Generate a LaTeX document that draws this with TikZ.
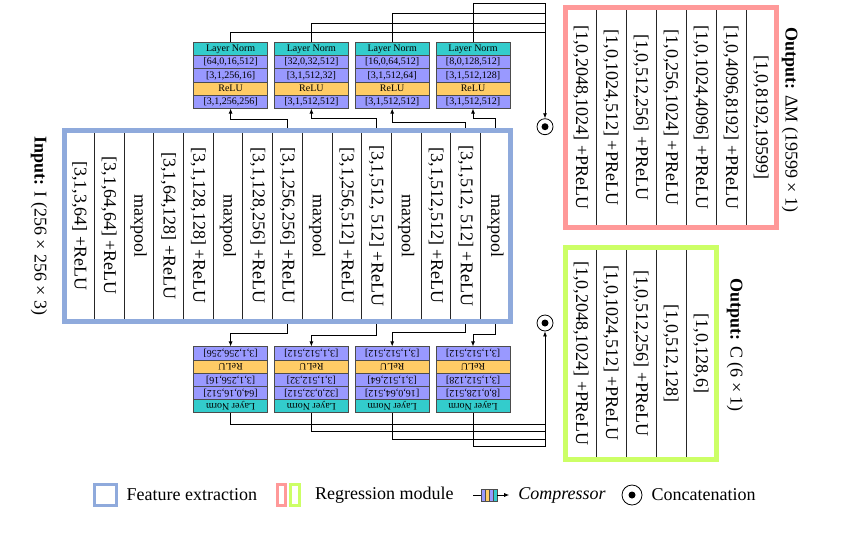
\documentclass[tikz,border=0pt]{standalone}
\usepackage{fontspec}
\setmainfont{Liberation Serif}
\usetikzlibrary{arrows.meta,positioning}

\definecolor{featblue}{RGB}{143,170,220}
\definecolor{regred}{RGB}{255,153,153}
\definecolor{reggreen}{RGB}{204,255,102}
\definecolor{normteal}{RGB}{51,204,204}
\definecolor{convblue}{RGB}{153,153,255}
\definecolor{reluorange}{RGB}{255,204,102}

\newcommand{\colfont}{\fontsize{18}{20}\selectfont}
\newcommand{\cmpfont}{\fontsize{10}{11}\selectfont}

\tikzset{
    pics/compressor/.style args={#1/#2/#3}{code={
        \node[cmprow,fill=normteal] (-ln) at (0,-26.4) {Layer Norm};
        \node[cmprow,fill=convblue] (-pa) at (0,-13.2) {[#1]};
        \node[cmprow,fill=convblue] (-pb) at (0,0) {[#2]};
        \node[cmprow,fill=reluorange] (-act) at (0,13.2) {ReLU};
        \node[cmprow,fill=convblue] (-pc) at (0,26.4) {[#3]};
    }}
}

\begin{document}
\begin{tikzpicture}[x=1pt,y=-1pt,
    >={Latex[length=5pt,width=4pt]},
    wire/.style={line width=0.8pt},
    layer/.style={draw=black!85,line width=0.8pt,rotate=-90,inner sep=0pt,font=\colfont},
    frame/.style={line width=5pt},
    cmprow/.style={draw=black!70,line width=0.6pt,minimum width=74pt,
        minimum height=13.2pt,inner sep=0pt,font=\cmpfont,transform shape},
    concat/.style={circle,draw,line width=0.8pt,minimum size=16pt,inner sep=0pt,
        path picture={\fill (path picture bounding box.center) circle[radius=3.5pt];}},
    legbox/.style={line width=3pt,minimum height=21pt,inner sep=0pt},
    legtext/.style={inner sep=0pt,font=\colfont},
    stripe/.style={draw=black!70,line width=0.4pt,minimum width=4pt,minimum height=12pt,inner sep=0pt}
]
\useasboundingbox (0,0) rectangle (858,544);

% feature extraction
\foreach \t [count=\i] in {{[3,1,3,64] +ReLU},{[3,1,64,64] +ReLU},maxpool,
        {[3,1,64,128] +ReLU},{[3,1,128,128] +ReLU},maxpool,
        {[3,1,128,256] +ReLU},{[3,1,256,256] +ReLU},maxpool,
        {[3,1,256,512] +ReLU},{[3,1,512, 512] +ReLU},maxpool,
        {[3,1,512,512] +ReLU},{[3,1,512, 512] +ReLU},maxpool} {
    \node[layer,minimum width=190.5pt,minimum height=29.72pt] (f\i)
        at ({64.5+29.72*(\i-0.5)},225.75) {\t};
}

% compressors, top and mirrored bottom
\foreach \i/\a/\b/\c in {1/{64,0,16,512}/{3,1,256,16}/{3,1,256,256},
                         2/{32,0,32,512}/{3,1,512,32}/{3,1,512,512},
                         3/{16,0,64,512}/{3,1,512,64}/{3,1,512,512},
                         4/{8,0,128,512}/{3,1,512,128}/{3,1,512,512}} {
    \pic (top\i) at ({149.8+80.8*\i},75.3) {compressor={\a}/{\b}/{\c}};
    \pic[rotate=180] (bot\i) at ({149.8+80.8*\i},379.7) {compressor={\a}/{\b}/{\c}};
}

% taps into the compressors
\foreach \c/\b/\d in {8/1/10.5, 11/2/11.5, 14/3/8, 15/4/11.5} {
    \draw[wire,->] (f\c.west) -- ++(0,-\d) -| (top\b-pc.south);
}
\foreach \c/\b/\d in {8/1/12.3, 11/2/14, 14/3/11.3, 15/4/13} {
    \draw[wire,->] (f\c.east) -- ++(0,\d) -| (bot\b-pc.south);
}

\draw[featblue,frame] (f1.south east) rectangle (f15.north west);

% concatenation
\node[concat] (cattop) at (545,126.7) {};
\node[concat] (catbot) at (545,323) {};
\foreach \i/\y in {1/32.3, 2/23.3, 3/13.3, 4/3.3} {
    \coordinate (tbus\i) at (545,\y);
}
\foreach \i/\y in {1/424.3, 2/431.7, 3/439.3, 4/446.7} {
    \coordinate (bbus\i) at (545,\y);
}
\foreach \i in {1,2,3} {
    \draw[wire] (top\i-ln.north) |- (tbus\i);
    \draw[wire] (bot\i-ln.north) |- (bbus\i);
}
\draw[wire,->] (top4-ln.north) |- (tbus4) -- (cattop);
\draw[wire,->] (bot4-ln.north) |- (bbus4) -- (catbot);

% regression heads
\foreach \t [count=\i] in {{[1,0,2048,1024] +PReLU},{[1,0,1024,512] +PReLU},
        {[1,0,512,256] +PReLU},{[1,0,256,1024] +PReLU},{[1,0,1024,4096] +PReLU},
        {[1,0,4096,8192] +PReLU},{[1,0,8192,19599]}} {
    \node[layer,minimum width=220pt,minimum height=30pt] (r\i)
        at ({566+30*(\i-0.5)},117.5) {\t};
}
\draw[regred,frame] (r1.south east) rectangle (r7.north west);

\foreach \t [count=\i] in {{[1,0,2048,1024] +PReLU},{[1,0,1024,512] +PReLU},
        {[1,0,512,256] +PReLU},{[1,0,512,128]},{[1,0,128,6]}} {
    \node[layer,minimum width=211.7pt,minimum height=30pt] (g\i)
        at ({566+30*(\i-0.5)},353.35) {\t};
}
\draw[reggreen,frame] (g1.south east) rectangle (g5.north west);

% labels
\node[rotate=-90,font=\colfont] (inlab) at (39,226) {\textbf{Input:} I (256 × 256 × 3)};
\node[rotate=-90,font=\colfont] (dmlab) at (790,120) {\textbf{Output:} ΔM (19599 × 1)};
\node[rotate=-90,font=\colfont] (clab) at (735,345) {\textbf{Output:} C (6 × 1)};

% legend
\node[legbox,draw=featblue,minimum width=22pt] (lgfeat) at (105,495) {};
\node[legtext,right=9pt of lgfeat] (lgfeattxt) {Feature extraction};
\node[legbox,draw=regred,minimum width=8pt] (lgred) at (281,495) {};
\node[legbox,draw=reggreen,minimum width=9pt,right=2pt of lgred] (lggreen) {};
\node[legtext,right=14.5pt of lggreen] (lgregtxt) {Regression module};
\foreach \c [count=\k] in {convblue,reluorange,convblue,normteal} {
    \node[stripe,fill=\c] (lgs\k) at ({479+4*\k},495) {};
}
\node[legtext,font=\colfont\itshape] (lgcomptxt) at (562,495) {Compressor};
\draw[wire] (lgs1.west) -- ++(-8,0);
\draw[wire,->] (lgs4.east) -- ++(12,0);
\node[concat,minimum size=20pt] (lgcat) at (632,495) {};
\node[legtext,right=9pt of lgcat] (lgcattxt) {Concatenation};

\end{tikzpicture}
\end{document}
